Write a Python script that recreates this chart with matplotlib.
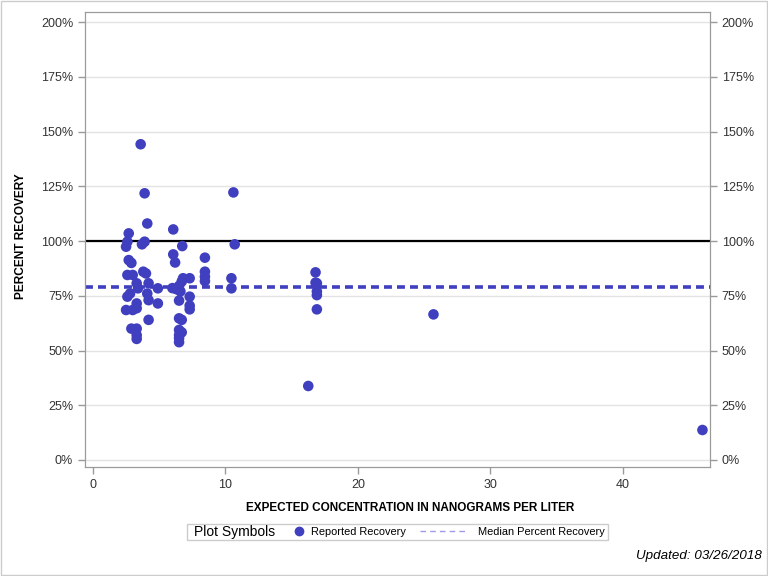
import matplotlib
matplotlib.use("Agg")
import matplotlib.pyplot as plt
from matplotlib.lines import Line2D
from matplotlib.patches import Rectangle
from matplotlib.ticker import FuncFormatter

# expected concentration (ng/L) and percent recovery
conc = [2.5, 2.6, 2.7, 3.6, 3.9, 4.1, 3.9, 3.7, 2.7, 2.9,
        2.6, 3.0, 3.8, 4.0, 3.3, 3.4, 4.2, 4.9, 2.8, 2.6,
        4.1, 4.2, 4.9, 3.3, 3.3, 2.5, 3.0, 4.2, 2.9, 3.3,
        3.3, 3.3,
        6.06, 6.74, 6.06, 6.2, 6.0, 6.3, 6.5, 6.7, 6.8, 6.6,
        7.3, 7.3, 7.3, 7.3, 6.5, 6.5, 6.7, 6.5, 6.7, 6.5,
        6.5, 6.5,
        8.45, 8.45, 8.45, 8.45,
        10.6, 10.7, 10.45, 10.45,
        16.8, 16.8, 16.9, 16.9, 16.9, 16.9, 16.25,
        25.7, 46.0]
recovery = [97.4, 99.7, 103.5, 144.2, 121.8, 108.0, 99.7, 98.5, 91.3, 90.0,
            84.5, 84.5, 86.0, 85.2, 80.7, 78.4, 80.7, 78.4, 76.0, 74.6,
            76.0, 73.0, 71.5, 71.5, 69.3, 68.5, 68.5, 64.0, 60.0, 60.0,
            57.0, 55.3,
            105.3, 97.7, 93.9, 90.2, 78.5, 78.0, 79.5, 81.5, 83.0, 77.0,
            83.0, 74.6, 70.5, 68.8, 72.8, 64.7, 64.0, 59.4, 58.3, 57.0,
            55.6, 53.8,
            92.4, 86.0, 83.7, 81.7,
            122.2, 98.5, 83.0, 78.4,
            85.7, 81.0, 80.7, 77.0, 75.3, 68.8, 33.8,
            66.5, 13.7]
median_recovery = 79.0
target_recovery = 100.0
y_ticks = [0, 25, 50, 75, 100, 125, 150, 175, 200]
x_ticks = [0, 10, 20, 30, 40]

dot_color = "#3F3FBF"
plt.rcParams['font.family'] = ['Liberation Sans', 'DejaVu Sans']


def main():
    fig = plt.figure(figsize=(7.68, 5.76), dpi=100)
    ax = fig.add_axes([85 / 768, 1 - 467 / 576, 625 / 768, 455 / 576])

    ax.set_xlim(-0.6, 46.57)
    ax.set_ylim(-3.2, 204.6)
    ax.set_yticks(y_ticks)
    ax.set_xticks(x_ticks)
    pct = FuncFormatter(lambda v, p: "%d%%" % v)
    ax.yaxis.set_major_formatter(pct)
    ax.yaxis.grid(True, color="#E3E3E3", lw=1)
    ax.set_axisbelow(True)

    ax.axhline(target_recovery, color="black", lw=1.6, zorder=2)
    ax.axhline(median_recovery, color=dot_color, lw=2.6, ls=(0, (2.2, 1.4)), zorder=2)
    ax.scatter(conc, recovery, s=58, color=dot_color, edgecolors="none", zorder=3)

    ax2 = ax.twinx()
    ax2.set_ylim(ax.get_ylim())
    ax2.set_yticks(y_ticks)
    ax2.yaxis.set_major_formatter(pct)

    for a in (ax, ax2):
        for s in a.spines.values():
            s.set_color("#9A9A9A")
        a.tick_params(colors="#9A9A9A", labelcolor="#333333", labelsize=9, length=5, width=1)

    ax.set_ylabel("PERCENT RECOVERY", fontsize=8.6, fontweight="bold")
    ax.yaxis.set_label_coords(-0.092, 0.507)
    ax.set_xlabel("EXPECTED CONCENTRATION IN NANOGRAMS PER LITER", fontsize=8.5,
                  fontweight="bold")
    ax.xaxis.set_label_coords(0.52, -0.077)

    # legend box
    fig.patches.append(Rectangle((187 / 768, 1 - 540 / 576), 421 / 768, 16 / 576,
                                 transform=fig.transFigure, fill=False,
                                 edgecolor="#CCCCCC", lw=1))
    fig.text(194 / 768, 1 - 532 / 576, "Plot Symbols", fontsize=10, va="center")
    h1 = Line2D([], [], marker="o", ls="none", color=dot_color, markersize=6)
    h2 = Line2D([], [], color="#9A9AEE", lw=1, ls=(0, (4, 3)))
    fig.legend([h1], ["Reported Recovery"], frameon=False, fontsize=7.9,
               loc="center left", bbox_to_anchor=(294 / 768, 1 - 532 / 576),
               handlelength=1.0, handletextpad=0.55, borderpad=0, borderaxespad=0)
    fig.legend([h2], ["Median Percent Recovery"], frameon=False, fontsize=7.9,
               loc="center left", bbox_to_anchor=(420 / 768, 1 - 532 / 576),
               handlelength=4.2, handletextpad=1.1, borderpad=0, borderaxespad=0)

    fig.text(762 / 768, 1 - 556 / 576, "Updated: 03/26/2018", fontsize=9.6, style="italic",
             ha="right", va="center")
    fig.patches.append(Rectangle((0.001, 0.001), 0.998, 0.998, transform=fig.transFigure,
                                 fill=False, edgecolor="#CCCCCC", lw=1))

    fig.savefig("out.png", dpi=100)


if __name__ == "__main__":
    main()
